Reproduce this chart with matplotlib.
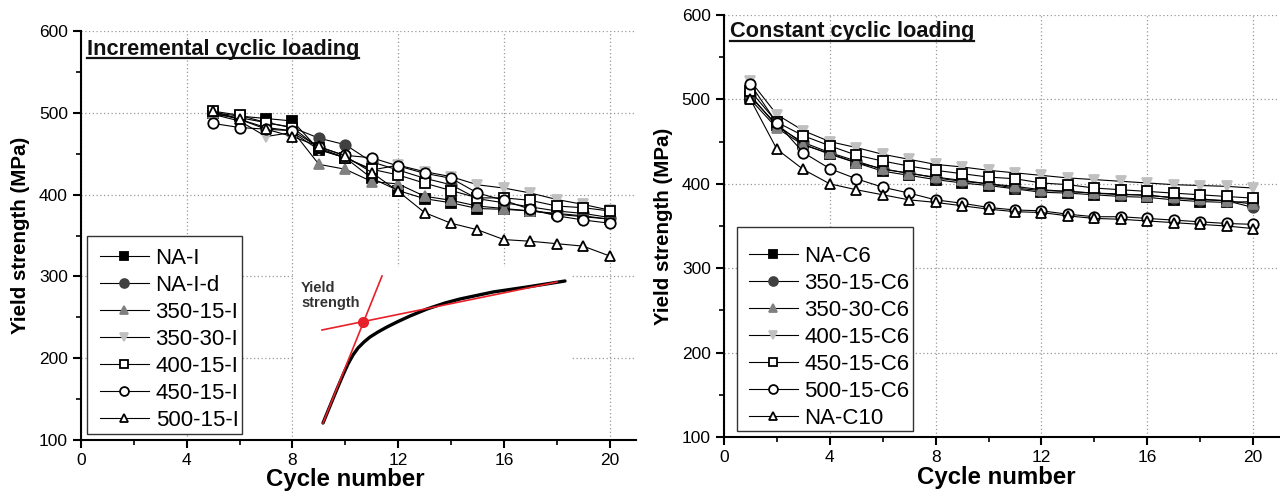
import matplotlib
matplotlib.use("Agg")
from matplotlib import pyplot as plt
from matplotlib.patches import Rectangle
from matplotlib.ticker import MultipleLocator

plt.rcParams['font.family'] = ['Liberation Sans', 'DejaVu Sans']

# incremental cyclic loading
cycles_inc = list(range(5, 21))
inc_labels = ['NA-I', 'NA-I-d', '350-15-I', '350-30-I', '400-15-I', '450-15-I', '500-15-I']
na_i = [500, 496, 493, 490, 455, 445, 420, 405, 395, 390, 383, 382, 380, 377, 374, 370]
na_i_d = [498, 494, 488, 482, 469, 461, 440, 430, 420, 412, 395, 390, 385, 380, 377, 372]
i_350_15 = [500, 492, 482, 478, 437, 431, 416, 413, 398, 393, 386, 383, 380, 376, 373, 370]
i_350_30 = [498, 490, 471, 476, 455, 445, 430, 436, 428, 422, 412, 408, 402, 394, 388, 381]
i_400_15 = [502, 497, 488, 482, 457, 445, 431, 424, 414, 405, 396, 396, 393, 386, 384, 380]
i_450_15 = [487, 482, 480, 478, 458, 448, 445, 435, 426, 420, 402, 393, 382, 374, 369, 365]
i_500_15 = [502, 492, 480, 471, 459, 447, 427, 404, 378, 365, 357, 345, 343, 340, 337, 325]
inc_series = [na_i, na_i_d, i_350_15, i_350_30, i_400_15, i_450_15, i_500_15]

# constant cyclic loading
cycles_con = list(range(1, 21))
con_labels = ['NA-C6', '350-15-C6', '350-30-C6', '400-15-C6', '450-15-C6', '500-15-C6', 'NA-C10']
na_c6 = [503, 470, 447, 435, 425, 415, 410, 405, 401, 398, 394, 390, 389, 387, 385, 384, 381, 379, 378, 379]
c6_350_15 = [505, 468, 449, 437, 427, 417, 413, 407, 403, 400, 395, 392, 391, 389, 387, 387, 383, 381, 380, 372]
c6_350_30 = [500, 466, 446, 436, 425, 418, 412, 408, 404, 400, 397, 393, 391, 389, 388, 386, 384, 382, 380, 376]
c6_400_15 = [522, 482, 463, 450, 443, 435, 429, 423, 420, 416, 413, 410, 407, 405, 403, 401, 399, 398, 397, 395]
c6_450_15 = [510, 473, 457, 445, 434, 427, 421, 416, 412, 408, 406, 401, 399, 395, 393, 391, 389, 387, 385, 383]
c6_500_15 = [518, 472, 437, 418, 406, 396, 389, 381, 377, 372, 369, 368, 364, 361, 361, 359, 357, 355, 353, 352]
na_c10 = [500, 441, 417, 400, 393, 387, 381, 378, 374, 370, 367, 366, 362, 359, 358, 356, 354, 352, 350, 347]
con_series = [na_c6, c6_350_15, c6_350_30, c6_400_15, c6_450_15, c6_500_15, na_c10]

# schematic stress-strain inset (read in inset pixel space)
curve_x = [323, 330, 337, 343, 348, 353, 358, 364, 370, 378, 387, 397, 410, 427, 445, 460, 493, 527, 565]
curve_y = [423, 406, 389, 375, 364, 355, 348, 342, 337, 332, 327, 322, 316, 309, 303, 299, 292, 287, 281]
elastic_x = [323, 382]
elastic_y = [423, 276]
plastic_x = [322, 557]
plastic_y = [330, 282]
yield_pt = (363, 322)

markers = ['s', 'o', '^', 'v', 's', 'o', '^']
faces = ['black', '#404040', '#808080', '#c0c0c0', 'white', 'white', 'white']
edges = ['black', '#404040', '#808080', '#c0c0c0', 'black', 'black', 'black']


def style_axes(ax, title, top_px, xlabel_x):
    ax.set_xlim(0, 21)
    ax.set_ylim(100, 600)
    ax.xaxis.set_major_locator(MultipleLocator(4))
    ax.xaxis.set_minor_locator(MultipleLocator(2))
    ax.yaxis.set_major_locator(MultipleLocator(100))
    ax.yaxis.set_minor_locator(MultipleLocator(50))
    ax.spines['top'].set_visible(False)
    ax.spines['right'].set_visible(False)
    for s in ['left', 'bottom']:
        ax.spines[s].set_linewidth(1.5)
    ax.tick_params(which='major', direction='out', length=6, width=1.5, labelsize=12.5)
    ax.tick_params(which='minor', direction='out', length=3.5, width=1.2)
    ax.grid(True, which='major', linestyle=(0, (1, 2)), color='#999999', linewidth=0.9)
    ax.set_axisbelow(True)
    ax.set_xlabel('Cycle number', fontsize=17.3, fontweight='bold', labelpad=1)
    ax.xaxis.set_label_coords(xlabel_x, -0.068)
    ax.set_ylabel('Yield strength (MPa)', fontsize=14.8, fontweight='bold', labelpad=6)
    t = ax.text(0.01, top_px, title, transform=ax.transAxes, fontsize=15.7,
                fontweight='bold', ha='left', va='top', color='#111111')
    return t


def plot_series(ax, xs, series, labels, anchor, frame):
    for ys, lab, m, fc, ec in zip(series, labels, markers, faces, edges):
        ax.plot(xs, ys, color='black', linewidth=0.8, marker=m, markersize=7.5,
                markerfacecolor=fc, markeredgecolor=ec, markeredgewidth=1.3, label=lab)
    ax.add_patch(Rectangle(frame[:2], frame[2], frame[3], transform=ax.transAxes,
                           facecolor='white', edgecolor='#333333', linewidth=1.0, zorder=4))
    leg = ax.legend(loc='lower left', bbox_to_anchor=anchor, borderaxespad=0,
                    fontsize=16, frameon=False, handlelength=2.2,
                    handletextpad=0.3, labelspacing=0.27, borderpad=0,
                    markerscale=0.85)
    leg.set_zorder(5)


fig = plt.figure(figsize=(12.8, 4.99), dpi=100)
ax1 = fig.add_axes([0.0633, 0.1182, 0.4336, 0.8197])
ax2 = fig.add_axes([0.5656, 0.1242, 0.434, 0.8457])

plot_series(ax1, cycles_inc, inc_series, inc_labels,
            ((100 - 81) / 555, (440 - 431) / 409),
            ((87 - 81) / 555, (440 - 434) / 409, (242 - 87) / 555, (434 - 236) / 409))
plot_series(ax2, cycles_con, con_series, con_labels,
            ((749 - 724) / 556, (437 - 429) / 422),
            ((737 - 724) / 556, (437 - 431) / 422, (913 - 737) / 556, (431 - 227) / 422))
t1 = style_axes(ax1, 'Incremental cyclic loading', 1 - 8 / 409, 10 / 21)
t2 = style_axes(ax2, 'Constant cyclic loading', 1 - 6 / 422, 0.49)

# inset schematic
axi = fig.add_axes([293 / 1280, 1 - 437 / 499, 279 / 1280, 170 / 499])
axi.set_facecolor('white')
for s in axi.spines.values():
    s.set_visible(False)
axi.set_xticks([])
axi.set_yticks([])
axi.set_xlim(293, 572)
axi.set_ylim(437, 267)
axi.plot(curve_x, curve_y, color='black', linewidth=2.4, solid_capstyle='round')
axi.plot(elastic_x, elastic_y, color='#e8202a', linewidth=1.2)
axi.plot(plastic_x, plastic_y, color='#e8202a', linewidth=1.2)
axi.plot([yield_pt[0]], [yield_pt[1]], 'o', color='#e8202a', markersize=7)
axi.text(301, 281, 'Yield\nstrength', fontsize=10.5, fontweight='bold', color='#333333',
         ha='left', va='top', linespacing=1.05)

# underline titles
fig.canvas.draw()
r = fig.canvas.get_renderer()
inv = fig.transFigure.inverted()
for t in [t1, t2]:
    bb = t.get_window_extent(r)
    (x0, y0), (x1, _) = inv.transform([(bb.x0, bb.y0 + 1.5), (bb.x1, bb.y0)])
    fig.add_artist(plt.Line2D([x0, x1], [y0, y0], transform=fig.transFigure,
                              color='#111111', linewidth=1.6))

fig.savefig('out.png', dpi=100)
